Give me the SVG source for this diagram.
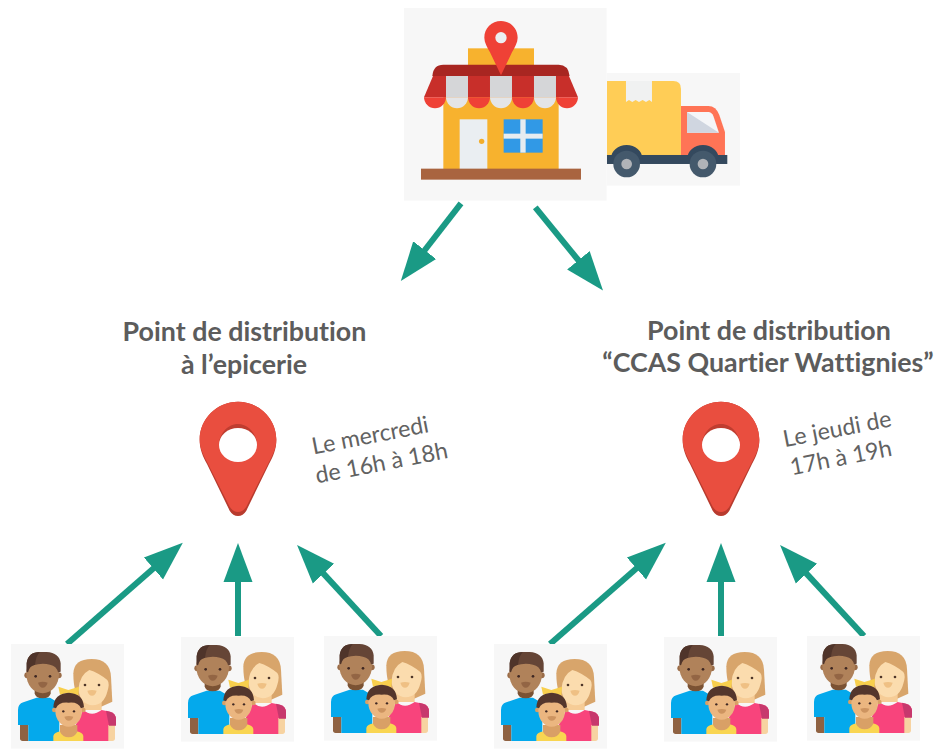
<svg xmlns="http://www.w3.org/2000/svg" width="934" height="749" viewBox="0 0 934 749">
<style>
text{font-family:Lato,"Liberation Sans",sans-serif;fill:#5c5c5c;text-anchor:middle;font-variant-ligatures:none}
.h{font-weight:700;font-size:26.800px}
.t{font-weight:400;font-size:23.200px;fill:#626262}
.c{fill:none;stroke:#1a9a85;stroke-width:6}
.bg{fill:#f7f7f7}
</style>
<defs>
<marker id="ah" markerUnits="userSpaceOnUse" markerWidth="44" markerHeight="40" refX="1" refY="20" orient="auto" viewBox="0 0 44 40"><path d="M0 5.500L39 20L0 34.500Z" fill="#1a9a85"/></marker>
<g id="family" transform="scale(.3333) translate(-33,-42)">
<rect class="bg" x="33" y="42" width="339" height="314"/>
<path d="M60 285H85V333H68Q60 333 60 325Z" fill="#8f6242"/>
<path d="M320 285H345V325Q345 333 337 333H320Z" fill="#f7d3a1"/>
<path d="M54 240Q54 222 70 217L110 203H150L178 220V333H85V285H54Z" fill="#04a9ec"/>
<path d="M104 170H152V190Q150 205 128 205Q106 205 104 190Z" fill="#7b5233"/>
<circle cx="82" cy="136" r="9" fill="#9a6c48"/><circle cx="176" cy="136" r="9" fill="#9a6c48"/>
<ellipse cx="128" cy="132" rx="49" ry="58" fill="#b0825a"/>
<path d="M80 125V100Q84 66 120 66H140Q178 68 182 100V125L174 127Q170 108 150 104Q125 98 100 106Q86 108 84 127Z" fill="#654536"/>
<path d="M80 125V100Q84 66 120 66Q108 76 105 104Q88 108 84 127Z" fill="#4f342a"/>
<circle cx="107" cy="139" r="4" fill="#3e2723"/><circle cx="150" cy="139" r="4" fill="#3e2723"/>
<path d="M114 158Q128 152 143 158Q138 173 128 173Q119 173 114 158Z" fill="#936544"/>
<path d="M220 130Q222 87 275 87Q330 87 333 140L337 215L300 232H245L228 190Q220 165 220 130Z" fill="#d8a56b"/>
<path d="M245 200H305V240H245Z" fill="#f6cc96"/>
<path d="M222 295L250 240Q275 262 305 240L330 245Q348 250 348 268V285H325V333H222Z" fill="#f8447c"/>
<path d="M318 242L330 245Q348 250 348 268V287H327Z" fill="#c7386d"/>
<path d="M235 180Q238 135 268 120Q295 128 322 150Q330 160 322 185Q312 224 278 226Q242 224 235 180Z" fill="#fbdcae"/>
<circle cx="255" cy="165" r="4" fill="#4e3628"/><circle cx="297" cy="165" r="4" fill="#4e3628"/>
<path d="M262 182Q276 178 290 182Q286 197 276 197Q266 197 262 182Z" fill="#efc084"/>
<path d="M175 170L205 180L237 170L235 196L205 188L180 194Z" fill="#f8cf4d"/>
<path d="M160 333V318Q162 307 182 304H230Q248 307 250 318V333Z" fill="#f9d551"/>
<path d="M180 285H232V305Q224 322 206 322Q188 322 180 305Z" fill="#d9a066"/>
<circle cx="163" cy="240" r="7" fill="#d9a066"/><circle cx="250" cy="240" r="7" fill="#d9a066"/>
<ellipse cx="206" cy="242" rx="40" ry="48" fill="#ebb680"/>
<path d="M160 232Q162 190 206 188Q250 190 252 232L243 235Q235 215 206 218Q176 215 168 235Z" fill="#54362c"/>
<circle cx="190" cy="244" r="3.500" fill="#3e2723"/><circle cx="222" cy="244" r="3.500" fill="#3e2723"/>
<path d="M193 260Q206 256 220 260Q216 272 206 272Q197 272 193 260Z" fill="#cd9460"/>
</g>
<g id="pin">
<path d="M175 35C112 35 60 86 60 150C60 178 70 200 82 222L150 362Q160 378 175 378Q190 378 200 362L268 222C280 200 290 178 290 150C290 86 238 35 175 35Z" fill="#b83b2e" transform="translate(-175,-150)"/>
<path d="M175 35C112 35 60 86 60 148C60 174 70 194 82 216L150 350Q160 366 175 366Q190 366 200 350L268 216C280 194 290 174 290 148C290 86 238 35 175 35Z" fill="#e94e3f" transform="translate(-175,-150)"/>
<path d="M118 165C118 120 232 120 232 165C232 133 207 102 175 102C143 102 118 133 118 165Z" fill="#bf3d30" transform="translate(-175,-150)"/>
<ellipse cx="0" cy="15" rx="57" ry="51" fill="#fff"/>
</g>
</defs>

<g id="store" transform="translate(400,0) scale(.3333)">
<rect class="bg" x="12" y="24" width="608" height="578"/>
<rect x="204" y="145" width="198" height="60" fill="#f7b22e"/>
<rect x="130" y="290" width="346" height="220" fill="#f7b22e"/>
<rect x="179" y="358" width="83" height="150" fill="#eaeef2"/>
<circle cx="245" cy="424" r="8" fill="#f2ad2c"/>
<rect x="311" y="358" width="117" height="100" fill="#3199e6"/>
<rect x="361" y="358" width="16" height="100" fill="#e6ecf0"/>
<rect x="311" y="401" width="117" height="15" fill="#e6ecf0"/>
<rect x="63" y="506" width="480" height="33" fill="#a9643f"/>
<path d="M72 292L100 226H506L534 292Z" fill="#c82f2a"/>
<path d="M97 228Q100 194 130 194H476Q505 194 509 228Z" fill="#a82621"/>
<path d="M138 228H204V292H138ZM270 228H336V292H270ZM402 228H468V292H402Z" fill="#d5d6d8"/>
<path d="M72 292H138A33 33 0 0 1 72 292Z" fill="#ef4136"/>
<path d="M138 292H204A33 33 0 0 1 138 292Z" fill="#e4e5e7"/>
<path d="M204 292H270A33 33 0 0 1 204 292Z" fill="#ef4136"/>
<path d="M270 292H336A33 33 0 0 1 270 292Z" fill="#e4e5e7"/>
<path d="M336 292H402A33 33 0 0 1 336 292Z" fill="#ef4136"/>
<path d="M402 292H468A33 33 0 0 1 402 292Z" fill="#e4e5e7"/>
<path d="M468 292H534A33 33 0 0 1 468 292Z" fill="#ef4136"/>
<path d="M303 63C275 63 253 85 253 113C253 128 262 142 270 157L303 226L336 157C344 142 353 128 353 113C353 85 331 63 303 63Z" fill="#ef4136"/>
<circle cx="303" cy="113" r="17" fill="#eceff1"/>
</g>

<g id="truck" transform="translate(400,0) scale(.3333)">
<rect class="bg" x="620" y="219" width="400" height="338"/>
<path d="M621 243H820Q843 243 843 266V470H621Z" fill="#ffcd56"/>
<path d="M678 243H756V306L748 300L738 306L728 300L717 306L707 300L697 306L687 300L678 306Z" fill="#f0f1f1"/>
<path d="M843 318H925Q948 318 958 345L975 396V470H843Z" fill="#ff7456"/>
<path d="M861 336H925Q936 336 941 350L957 398H861Z" fill="#f5f6f8"/>
<path d="M861 336L957 398H861Z" fill="#d0d6e0"/>
<rect x="621" y="465" width="361" height="27" fill="#34495e"/>
<path d="M633 475A47 40 0 0 1 727 475ZM862 475A47 40 0 0 1 956 475Z" fill="#34495e"/>
<circle cx="680" cy="492" r="40" fill="#44596c"/>
<circle cx="909" cy="492" r="40" fill="#44596c"/>
<circle cx="680" cy="492" r="16" fill="#b0b3b8"/>
<circle cx="909" cy="492" r="16" fill="#b0b3b8"/>
</g>

<g id="connectors">
<line class="c" x1="461" y1="203.300" x2="424.100" y2="251" marker-end="url(#ah)"/>
<line class="c" x1="535.300" y1="207.300" x2="579" y2="261" marker-end="url(#ah)"/>
<line class="c" x1="67" y1="644" x2="154.200" y2="567.800" marker-end="url(#ah)"/>
<line class="c" x1="238" y1="636" x2="238" y2="581" marker-end="url(#ah)"/>
<line class="c" x1="381" y1="636" x2="322.800" y2="572.900" marker-end="url(#ah)"/>
<line class="c" x1="550" y1="644" x2="637.200" y2="567.800" marker-end="url(#ah)"/>
<line class="c" x1="721" y1="636" x2="721" y2="581" marker-end="url(#ah)"/>
<line class="c" x1="864" y1="636" x2="805.800" y2="572.900" marker-end="url(#ah)"/>
</g>

<g id="point-epicerie">
<text class="h" x="244.500" y="341">Point de distribution</text>
<text class="h" x="244" y="374">à l’epicerie</text>
</g>
<g id="point-ccas">
<text class="h" x="769" y="339.500">Point de distribution</text>
<text class="h" x="768" y="372">“CCAS Quartier Wattignies”</text>
</g>
<g id="pin-left"><use href="#pin" transform="translate(238,440) scale(.3333)"/></g>
<g id="pin-right"><use href="#pin" transform="translate(721,440) scale(.3333)"/></g>
<g id="time-left">
<text class="t" transform="translate(371.700,443.300) rotate(-11)">Le mercredi</text>
<text class="t" transform="translate(383,470.700) rotate(-11)">de 16h à 18h</text>
</g>
<g id="time-right">
<text class="t" transform="translate(838.700,436.700) rotate(-11)">Le jeudi de</text>
<text class="t" transform="translate(842.400,465.300) rotate(-11)">17h à 19h</text>
</g>
<g id="family-1"><use href="#family" x="11" y="644"/></g>
<g id="family-2"><use href="#family" x="181" y="637"/></g>
<g id="family-3"><use href="#family" x="324" y="636"/></g>
<g id="family-4"><use href="#family" x="494" y="644"/></g>
<g id="family-5"><use href="#family" x="664" y="637"/></g>
<g id="family-6"><use href="#family" x="807" y="636"/></g>
</svg>
